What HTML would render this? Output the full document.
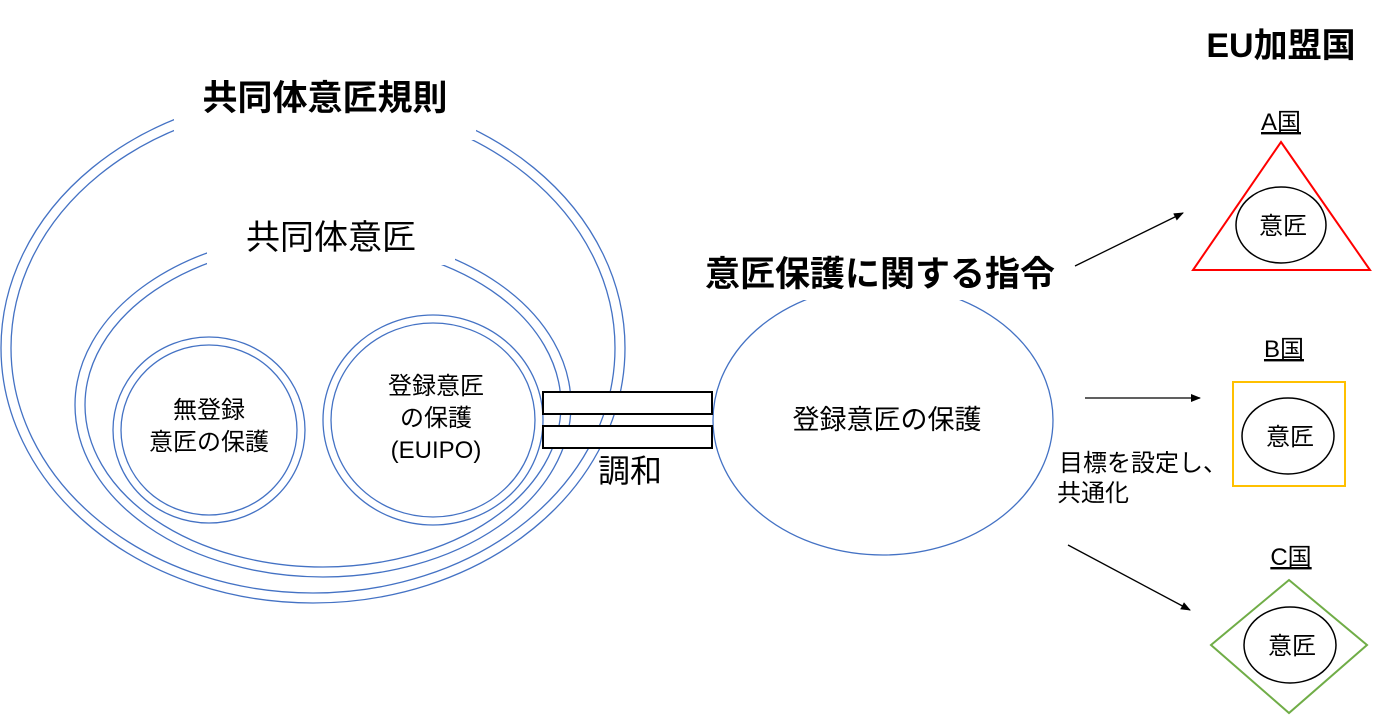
<!DOCTYPE html>
<html><head><meta charset="utf-8"><style>
html,body{margin:0;padding:0;background:#fff;}
svg{display:block;font-family:"Liberation Sans","Noto Sans CJK JP",sans-serif;}
</style></head><body>
<svg width="1386" height="717" viewBox="0 0 1386 717" xmlns="http://www.w3.org/2000/svg">
<defs><marker id="ah" markerWidth="10" markerHeight="8" refX="9" refY="4" orient="auto" markerUnits="userSpaceOnUse"><path d="M0,0 L10,4 L0,8 z" fill="#000"/></marker></defs>
<g fill="none" stroke="#4472C4" stroke-width="1.3">
<ellipse cx="313" cy="348" rx="312" ry="255"/>
<ellipse cx="313" cy="348" rx="302" ry="245"/>
</g>
<rect x="174" y="60" width="302" height="80" fill="#fff"/>
<g fill="none" stroke="#4472C4" stroke-width="1.3">
<ellipse cx="323" cy="405" rx="248" ry="172"/>
<ellipse cx="323" cy="405" rx="238" ry="162"/>
</g>
<rect x="207" y="205" width="248" height="60" fill="#fff"/>
<g fill="none" stroke="#4472C4" stroke-width="1.3">
<ellipse cx="209" cy="430" rx="96" ry="93"/>
<ellipse cx="209" cy="430" rx="88" ry="85"/>
<ellipse cx="433" cy="420" rx="110" ry="105"/>
<ellipse cx="433" cy="420" rx="102" ry="97"/>
<ellipse cx="883" cy="420" rx="170" ry="135"/>
</g>
<rect x="700" y="248" width="360" height="52" fill="#fff"/>
<rect x="543" y="392" width="169" height="22" fill="#fff" stroke="#000" stroke-width="2"/>
<rect x="543" y="426" width="169" height="22" fill="#fff" stroke="#000" stroke-width="2"/>
<g fill="#000" text-anchor="middle">
<text x="325" y="110" font-size="35" font-weight="bold">共同体意匠規則</text>
<text x="331" y="249" font-size="34">共同体意匠</text>
<text x="209" y="418" font-size="24">無登録</text>
<text x="209" y="450" font-size="24">意匠の保護</text>
<text x="436" y="394" font-size="24">登録意匠</text>
<text x="436" y="426" font-size="24">の保護</text>
<text x="436" y="458" font-size="24">(EUIPO)</text>
<text x="630" y="482" font-size="32">調和</text>
<text x="880" y="286" font-size="35" font-weight="bold">意匠保護に関する指令</text>
<text x="887" y="429" font-size="27">登録意匠の保護</text>
<text x="1281" y="57" font-size="34" font-weight="bold">EU加盟国</text>
<text x="1281" y="130" font-size="24" text-decoration="underline">A国</text>
<text x="1284" y="357" font-size="24" text-decoration="underline">B国</text>
<text x="1291" y="565" font-size="24" text-decoration="underline">C国</text>
</g>
<g stroke="#000" stroke-width="1.3" marker-end="url(#ah)">
<line x1="1075" y1="266" x2="1183" y2="213"/>
<line x1="1085" y1="398" x2="1200" y2="398"/>
<line x1="1068" y1="545" x2="1190" y2="610"/>
</g>
<g font-size="24" fill="#000">
<text x="1059" y="471">目標を設定し、</text>
<text x="1057" y="501">共通化</text>
</g>
<polygon points="1281,142 1370,270 1193,270" fill="none" stroke="#FF0000" stroke-width="2"/>
<rect x="1233" y="382" width="112" height="104" fill="none" stroke="#FFC000" stroke-width="2"/>
<polygon points="1289,580 1367,645 1289,713 1211,645" fill="none" stroke="#70AD47" stroke-width="2"/>
<g fill="none" stroke="#000" stroke-width="1.5">
<ellipse cx="1281" cy="225" rx="45" ry="38"/>
<ellipse cx="1288" cy="436" rx="46" ry="38"/>
<ellipse cx="1290" cy="645" rx="46" ry="38"/>
</g>
<g fill="#000" font-size="24" text-anchor="middle">
<text x="1283" y="234">意匠</text>
<text x="1290" y="445">意匠</text>
<text x="1292" y="654">意匠</text>
</g>
</svg>
</body></html>
